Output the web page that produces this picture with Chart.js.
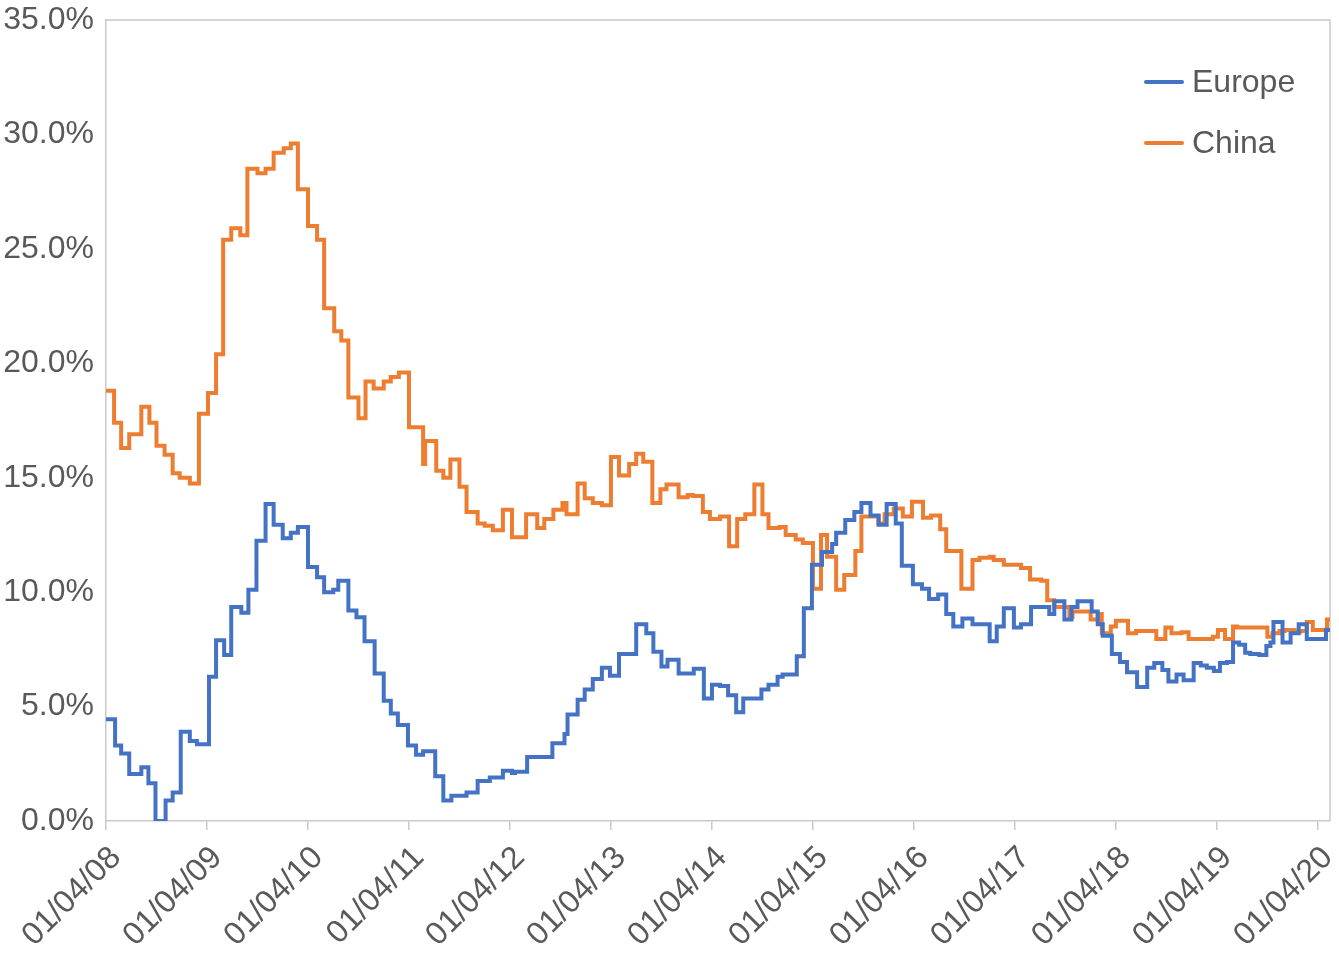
<!DOCTYPE html>
<html>
<head>
<meta charset="utf-8">
<script src="https://cdn.jsdelivr.net/npm/chart.js@4"></script>
<style>
  body { margin: 0; background: #fff; }
</style>
</head>
<body>
<canvas id="chart" width="1339" height="953"></canvas>
<script>
// dates as decimal years (2008.25 = 01/04/08), values in %
const europeDates = [2008.25, 2008.34, 2008.40, 2008.48, 2008.60, 2008.67, 2008.74, 2008.84, 2008.91, 2008.99,
  2009.08, 2009.15, 2009.27, 2009.34, 2009.42, 2009.49, 2009.59, 2009.66, 2009.74, 2009.83,
  2009.91, 2010.00, 2010.08, 2010.15, 2010.25, 2010.34, 2010.41, 2010.50, 2010.55, 2010.65,
  2010.73, 2010.81, 2010.91, 2011.00, 2011.07, 2011.14, 2011.24, 2011.32, 2011.39, 2011.51,
  2011.59, 2011.67, 2011.82, 2011.93, 2012.05, 2012.18, 2012.27, 2012.30, 2012.42, 2012.67,
  2012.79, 2012.82, 2012.92, 2012.99, 2013.07, 2013.16, 2013.24, 2013.33, 2013.50, 2013.60,
  2013.67, 2013.75, 2013.81, 2013.92, 2014.07, 2014.17, 2014.25, 2014.33, 2014.41, 2014.49,
  2014.56, 2014.74, 2014.81, 2014.90, 2014.95, 2015.09, 2015.16, 2015.24, 2015.34, 2015.44,
  2015.48, 2015.57, 2015.66, 2015.73, 2015.82, 2015.90, 2015.98, 2016.07, 2016.13, 2016.24,
  2016.33, 2016.40, 2016.49, 2016.57, 2016.64, 2016.73, 2016.83, 2017.00, 2017.07, 2017.14,
  2017.24, 2017.31, 2017.41, 2017.59, 2017.64, 2017.74, 2017.81, 2017.87, 2018.01, 2018.07,
  2018.12, 2018.21, 2018.29, 2018.36, 2018.46, 2018.56, 2018.63, 2018.71, 2018.77, 2018.85,
  2018.92, 2019.02, 2019.09, 2019.15, 2019.22, 2019.28, 2019.35, 2019.41, 2019.47, 2019.53,
  2019.58, 2019.67, 2019.74, 2019.78, 2019.81, 2019.90, 2019.98, 2020.06, 2020.14, 2020.33,
  2020.37];
const europeValues = [4.45, 3.3, 2.95, 2.05, 2.35, 1.65, 0.0, 0.9, 1.25, 3.9,
  3.5, 3.35, 6.3, 7.9, 7.25, 9.35, 9.1, 10.1, 12.25, 13.85,
  12.95, 12.35, 12.6, 12.85, 11.1, 10.65, 10.0, 10.1, 10.5, 9.2,
  8.9, 7.85, 6.45, 5.25, 4.7, 4.2, 3.3, 2.9, 3.05, 1.95,
  0.9, 1.1, 1.25, 1.75, 1.9, 2.2, 2.1, 2.15, 2.8, 3.4,
  3.8, 4.65, 5.3, 5.75, 6.2, 6.7, 6.35, 7.3, 8.6, 8.2,
  7.4, 6.75, 7.05, 6.45, 6.65, 5.35, 5.95, 5.9, 5.5, 4.75,
  5.35, 5.75, 5.95, 6.3, 6.4, 7.2, 9.3, 11.2, 11.75, 12.1,
  12.6, 13.15, 13.5, 13.9, 13.35, 12.95, 13.85, 13.0, 11.15, 10.35,
  10.15, 9.7, 9.9, 9.05, 8.5, 8.85, 8.6, 7.85, 8.5, 9.3,
  8.45, 8.6, 9.35, 9.05, 9.6, 8.8, 9.35, 9.6, 9.15, 8.6,
  8.1, 7.3, 6.95, 6.5, 5.85, 6.7, 6.9, 6.6, 6.1, 6.4,
  6.15, 6.9, 6.8, 6.7, 6.55, 6.9, 6.95, 7.8, 7.7, 7.35,
  7.3, 7.25, 7.65, 7.8, 8.7, 7.8, 8.2, 8.6, 7.95, 8.35,
  8.35];

const chinaDates = [2008.25, 2008.33, 2008.40, 2008.48, 2008.60, 2008.68, 2008.75, 2008.83, 2008.91, 2008.98,
  2009.08, 2009.17, 2009.26, 2009.34, 2009.41, 2009.49, 2009.58, 2009.65, 2009.75, 2009.83,
  2009.91, 2010.01, 2010.08, 2010.15, 2010.25, 2010.34, 2010.41, 2010.51, 2010.58, 2010.65,
  2010.75, 2010.82, 2010.90, 2011.00, 2011.07, 2011.15, 2011.25, 2011.39, 2011.41, 2011.52,
  2011.59, 2011.66, 2011.75, 2011.82, 2011.93, 2012.00, 2012.08, 2012.18, 2012.27, 2012.41,
  2012.52, 2012.59, 2012.68, 2012.77, 2012.81, 2012.92, 2012.99, 2013.07, 2013.16, 2013.25,
  2013.33, 2013.43, 2013.50, 2013.57, 2013.66, 2013.74, 2013.80, 2013.92, 2014.01, 2014.06,
  2014.16, 2014.23, 2014.33, 2014.42, 2014.50, 2014.58, 2014.67, 2014.75, 2014.81, 2014.92,
  2014.98, 2015.08, 2015.15, 2015.25, 2015.33, 2015.39, 2015.48, 2015.56, 2015.67, 2015.73,
  2015.90, 2015.96, 2016.05, 2016.14, 2016.23, 2016.34, 2016.42, 2016.51, 2016.57, 2016.72,
  2016.83, 2016.90, 2017.00, 2017.04, 2017.14, 2017.31, 2017.40, 2017.51, 2017.57, 2017.64,
  2017.79, 2017.82, 2018.00, 2018.07, 2018.11, 2018.20, 2018.25, 2018.37, 2018.45, 2018.65,
  2018.74, 2018.80, 2018.90, 2018.97, 2019.21, 2019.26, 2019.33, 2019.41, 2019.45, 2019.75,
  2019.80, 2019.87, 2019.92, 2020.02, 2020.07, 2020.14, 2020.20, 2020.34, 2020.37];
const chinaValues = [18.8, 17.4, 16.3, 16.9, 18.1, 17.4, 16.4, 16.0, 15.2, 15.0,
  14.75, 17.8, 18.7, 20.4, 25.4, 25.9, 25.6, 28.5, 28.3, 28.5,
  29.2, 29.4, 29.6, 27.6, 26.0, 25.4, 22.4, 21.4, 21.0, 18.5,
  17.6, 19.2, 18.9, 19.2, 19.4, 19.6, 17.2, 15.6, 16.6, 15.3,
  15.0, 15.8, 14.6, 13.5, 13.0, 12.9, 12.7, 13.6, 12.4, 13.4,
  12.8, 13.2, 13.6, 13.9, 13.4, 14.75, 14.1, 13.9, 13.8, 15.9,
  15.1, 15.6, 16.05, 15.7, 13.9, 14.5, 14.7, 14.15, 14.25, 14.2,
  13.5, 13.2, 13.3, 12.0, 13.2, 13.4, 14.7, 13.4, 12.8, 12.85,
  12.5, 12.3, 12.15, 10.15, 12.5, 11.55, 10.1, 10.75, 11.8, 13.3,
  13.0, 13.4, 13.65, 13.3, 13.95, 13.25, 13.35, 12.75, 11.8, 10.15,
  11.4, 11.5, 11.55, 11.4, 11.2, 11.05, 10.55, 10.5, 9.65, 9.35,
  8.9, 9.15, 8.8, 9.05, 8.2, 8.5, 8.75, 8.2, 8.3, 7.95,
  8.45, 8.2, 8.25, 7.95, 8.05, 8.35, 7.95, 8.5, 8.45, 8.05,
  8.2, 8.3, 8.35, 8.25, 8.3, 8.7, 8.35, 8.8, 8.8];

const xTickValues = [2008.25, 2009.25, 2010.25, 2011.25, 2012.25, 2013.25, 2014.25,
  2015.25, 2016.25, 2017.25, 2018.25, 2019.25, 2020.25];
const xTickLabels = ['01/04/08', '01/04/09', '01/04/10', '01/04/11', '01/04/12', '01/04/13', '01/04/14',
  '01/04/15', '01/04/16', '01/04/17', '01/04/18', '01/04/19', '01/04/20'];

const toPoints = (dates, vals) => dates.map((d, i) => ({ x: d, y: vals[i] }));

Chart.defaults.font.family = '"Liberation Sans", Arial, sans-serif';
Chart.defaults.font.size = 32;
Chart.defaults.color = '#595959';

const axisGrey = '#C9C9C9';

// box round the plot (top and right edges) + legend in the upper right
const framePlugin = {
  id: 'frame',
  beforeDatasetsDraw(chart) {
    const { ctx, chartArea: a } = chart;
    ctx.save();
    ctx.strokeStyle = axisGrey;
    ctx.lineWidth = 1.5;
    ctx.beginPath();
    ctx.moveTo(a.left, a.top);
    ctx.lineTo(a.right, a.top);
    ctx.lineTo(a.right, a.bottom);
    ctx.stroke();
    ctx.restore();
  },
  afterDraw(chart) {
    const { ctx, chartArea: a } = chart;
    const rows = [a.top + 62, a.top + 123];
    chart.data.datasets.forEach((ds, i) => {
      const y = rows[i];
      ctx.save();
      ctx.strokeStyle = ds.borderColor;
      ctx.lineWidth = 4;
      ctx.lineCap = 'round';
      ctx.beginPath();
      ctx.moveTo(a.right - 184, y);
      ctx.lineTo(a.right - 148, y);
      ctx.stroke();
      ctx.fillStyle = '#595959';
      ctx.font = '32px "Liberation Sans", Arial, sans-serif';
      ctx.textBaseline = 'middle';
      ctx.fillText(ds.label, a.right - 138, y + 1);
      ctx.restore();
    });
  }
};

new Chart(document.getElementById('chart'), {
  type: 'line',
  data: {
    datasets: [{
      label: 'Europe',
      data: toPoints(europeDates, europeValues),
      borderColor: '#4472C4',
      borderWidth: 4,
      pointRadius: 0,
      stepped: true
    }, {
      label: 'China',
      data: toPoints(chinaDates, chinaValues),
      borderColor: '#ED7D31',
      borderWidth: 4,
      pointRadius: 0,
      stepped: true
    }]
  },
  options: {
    responsive: false,
    animation: false,
    layout: { padding: { top: 20, right: 9, left: 0, bottom: 0 } },
    plugins: {
      legend: { display: false },
      tooltip: { enabled: false }
    },
    scales: {
      x: {
        type: 'linear',
        min: 2008.25,
        max: 2020.37,
        afterBuildTicks: (scale) => {
          scale.ticks = xTickValues.map(v => ({ value: v }));
        },
        afterFit: (scale) => {
          scale.height = 132;
          scale.paddingLeft = 0;
          scale.paddingRight = 0;
        },
        ticks: {
          autoSkip: false,
          minRotation: 45,
          maxRotation: 45,
          padding: 9,
          labelOffset: 10,
          callback: (v, i) => xTickLabels[i]
        },
        grid: {
          drawOnChartArea: false,
          drawTicks: true,
          tickLength: 9,
          color: axisGrey,
          lineWidth: 1.5
        },
        border: { color: axisGrey, width: 1.5 }
      },
      y: {
        min: 0,
        max: 35,
        afterFit: (scale) => {
          scale.width = 106;
          scale.paddingTop = 0;
          scale.paddingBottom = 0;
        },
        ticks: {
          stepSize: 5,
          padding: 12,
          callback: (v) => v.toFixed(1) + '%'
        },
        grid: { display: false, drawTicks: false },
        border: { color: axisGrey, width: 1.5 }
      }
    }
  },
  plugins: [framePlugin]
});
</script>
</body>
</html>
